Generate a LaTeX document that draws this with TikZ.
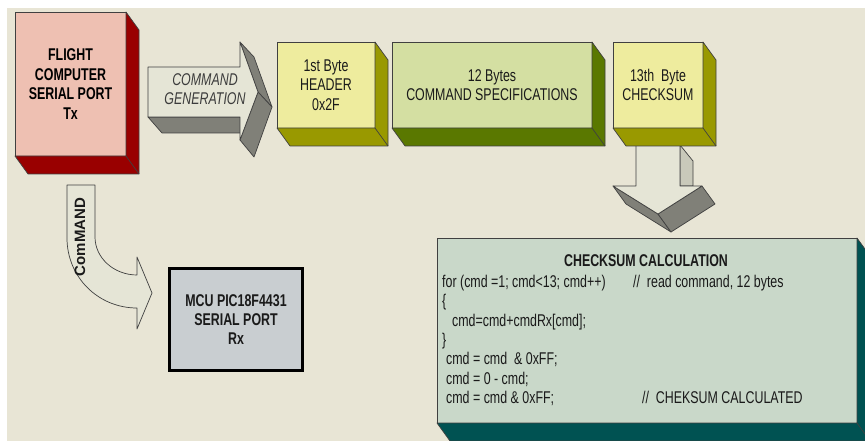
\documentclass[tikz,border=0pt]{standalone}
\usepackage{fontspec}
\setmainfont{Liberation Sans}[FakeStretch=0.73]
\newfontfamily\widesans{Liberation Sans}
\usetikzlibrary{calc}
\definecolor{bg}{HTML}{E8E5D5}
\definecolor{pinkfront}{HTML}{EEC0B2}
\definecolor{darkred}{HTML}{990000}
\definecolor{yellowfront}{HTML}{EEEC9E}
\definecolor{olive}{HTML}{999900}
\definecolor{greenfront}{HTML}{D4DFA2}
\definecolor{darkgreen}{HTML}{5A7800}
\definecolor{tealside}{HTML}{005252}
\definecolor{calcfront}{HTML}{C9D8C9}
\definecolor{mcufill}{HTML}{C9CED1}
\definecolor{arrowfront}{HTML}{E5E5D6}
\definecolor{arrowside}{HTML}{808078}
\definecolor{arrowlight}{HTML}{C9C9BA}
\definecolor{edgegray}{HTML}{404040}
\definecolor{textc}{HTML}{1A1A1A}
\newcommand\boxdepth[2]{%
  \filldraw[edge, fill=#2] (#1.north east) -- ++(13,18) -- ($(#1.south east)+(13,18)$) -- ($(#1.south west)+(13,18)$) -- (#1.south west) -- (#1.south east) -- cycle;
  \draw[edge] (#1.south east) -- ++(13,18);}
\begin{document}
\begin{tikzpicture}[x=1pt,y=-1pt,
  font=\fontsize{17}{19.3}\selectfont,
  edge/.style={draw=edgegray, line width=0.7pt, line join=round},
  front/.style={edge, rectangle, outer sep=0pt, inner sep=0pt, align=center, text=textc},
  codeline/.style={anchor=base west, inner sep=0pt, text=textc},
  arrowface/.style={edge, fill=arrowfront},
  arrowdark/.style={edge, fill=arrowside},
  arrowpale/.style={edge, fill=arrowlight}]
\useasboundingbox (0,0) rectangle (865,441);
\clip (0,0) rectangle (865,441);
\fill[white] (0,0) rectangle (865,441);
\fill[bg] (7,8) rectangle (865,441);

% command generation block arrow
\filldraw[arrowdark] (148,117) -- (240,117) -- (254,133) -- (162,133) -- cycle;
\filldraw[arrowdark] (240,42) -- (254,57) -- (272,107) -- (258,92) -- cycle;
\filldraw[arrowdark] (258,92) -- (272,107) -- (254,157) -- (240,140) -- cycle;
\filldraw[arrowface] (148,67) -- (240,67) -- (240,42) -- (258,92) -- (240,140) -- (240,117) -- (148,117) -- cycle;
\node[align=center, text=textc!85, font=\fontsize{17}{18.5}\selectfont\itshape] (gen) at (205,89) {COMMAND\\GENERATION};

% down arrow under checksum byte
\filldraw[arrowpale] (680,145) -- (693,161) -- (693,186) -- (680,186) -- cycle;
\filldraw[arrowdark] (613,186) -- (658,214) -- (671,232) -- (626,204) -- cycle;
\filldraw[arrowdark] (658,214) -- (702,186) -- (715,204) -- (671,232) -- cycle;
\filldraw[arrowface] (636,145) -- (680,145) -- (680,186) -- (702,186) -- (658,214) -- (613,186) -- (636,186) -- cycle;

% flight computer
\node[front, fill=pinkfront, minimum width=111pt, minimum height=144pt, font=\fontsize{17}{19.5}\selectfont\bfseries, text=black] (fc) at (70.5,84) {FLIGHT\\COMPUTER\\SERIAL PORT\\Tx};
\boxdepth{fc}{darkred}

% header byte
\node[front, fill=yellowfront, minimum width=98pt, minimum height=86pt] (hdr) at (326,85) {1st Byte\\HEADER\\0x2F};
\boxdepth{hdr}{olive}

% command specifications
\node[front, fill=greenfront, minimum width=200pt, minimum height=86pt] (spec) at (492,85) {12 Bytes\\COMMAND SPECIFICATIONS};
\boxdepth{spec}{darkgreen}

% checksum byte
\node[front, fill=yellowfront, minimum width=90pt, minimum height=86pt] (chk) at (658,85) {13th\ \ Byte\\CHECKSUM};
\boxdepth{chk}{olive}

% curved command arrow
\filldraw[arrowface] (67,185) -- (95,185) -- (95,237)
  .. controls (95,258) and (114,275) .. (137,275)
  -- (137,257) -- (152,293) -- (137,329) -- (137,308)
  .. controls (98,308) and (67,277) .. (67,238) -- cycle;
\node[rotate=90, inner sep=0pt, text=textc, font=\widesans\fontsize{15}{17}\selectfont\bfseries] (cmdlbl) at (80,237) {ComMAND};

% MCU box
\node[draw=black, line width=3pt, fill=mcufill, minimum width=133pt, minimum height=102pt, align=center, text=textc, font=\fontsize{17}{18.7}\selectfont\bfseries] (mcu) at (236,319.5) {MCU PIC18F4431\\SERIAL PORT\\Rx};

% checksum calculation box
\node[front, fill=calcfront, minimum width=420pt, minimum height=185pt] (calc) at (647,330.5) {};
\boxdepth{calc}{tealside}
\node[inner sep=0pt, text=textc, font=\fontsize{17}{19}\selectfont\bfseries, anchor=base] (ctitle) at (646,266.5) {CHECKSUM CALCULATION};
\node[codeline] (l1) at (442,287.5) {for (cmd =1; cmd<13; cmd++)};
\node[codeline] (c1) at (633,287.5) {//\ \ read command, 12 bytes};
\node[codeline] (l2) at (442,306.8) {\{};
\node[codeline] (l3) at (452,326.1) {cmd=cmd+cmdRx[cmd];};
\node[codeline] (l4) at (442,345.4) {\}};
\node[codeline] (l5) at (446,364.7) {cmd = cmd\ \ \& 0xFF;};
\node[codeline] (l6) at (446,384.0) {cmd = 0 - cmd;};
\node[codeline] (l7) at (446,403.3) {cmd = cmd \& 0xFF;};
\node[codeline] (c2) at (642,403.3) {//\ \ CHEKSUM CALCULATED};
\end{tikzpicture}
\end{document}
